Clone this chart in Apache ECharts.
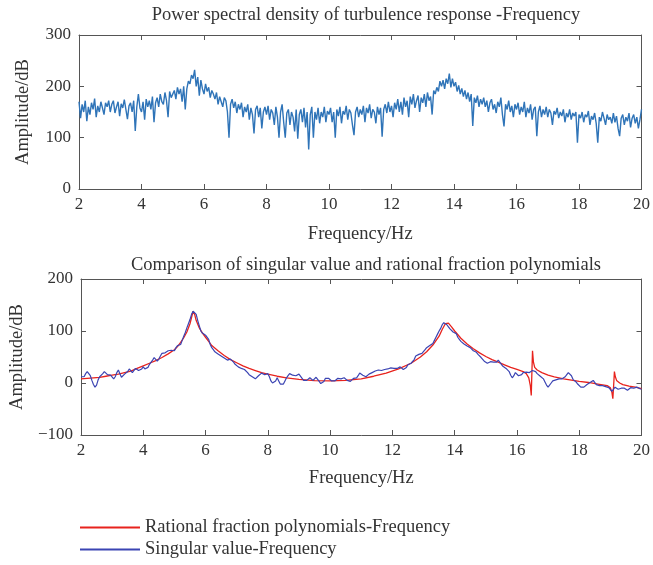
<!DOCTYPE html>
<html>
<head>
<meta charset="utf-8">
<script src="https://cdn.jsdelivr.net/npm/echarts@6/dist/echarts.min.js"></script>
<style>html,body{margin:0;padding:0;background:#fff}#c{width:653px;height:565px}</style>
</head>
<body>
<div id="c"></div>
<script>
// ---------- data ----------
const freqStart = 2;
const freqStep = 0.05;
const xTicks = [2, 4, 6, 8, 10, 12, 14, 16, 18, 20];
const psdTicks = [0, 100, 200, 300];
const cmpTicks = [-100, 0, 100, 200];

// Power spectral density of turbulence response (dB), 2.00 .. 20.00 Hz, step 0.05
const psdAmp = [
170,138,165,150,172,132,160,145,168,155,176,140,162,150,170,158,145,168,160,172,
150,165,172,148,160,170,142,166,158,174,155,136,162,168,150,172,113,160,185,158,
150,170,135,175,160,172,155,180,130,168,178,160,185,170,165,188,172,140,190,178,
180,192,175,198,185,195,170,200,155,195,210,205,222,215,232,200,218,182,212,195,
185,205,190,198,178,192,185,175,188,165,180,170,160,178,172,150,100,165,175,158,
170,148,165,155,168,140,160,150,165,135,158,145,108,155,162,140,158,118,150,160,
145,162,135,155,148,125,160,140,100,150,165,130,100,148,155,125,150,140,112,155,
98,145,155,130,158,120,150,77,145,160,100,150,135,158,128,150,140,160,130,152,
145,158,130,150,100,155,142,160,128,152,145,162,135,155,148,125,105,150,160,140,
155,145,162,130,158,148,165,138,155,150,128,160,145,158,102,155,165,148,170,150,
162,140,168,155,175,150,170,145,178,160,172,140,180,165,185,158,172,182,150,178,
168,185,160,188,172,180,145,192,185,198,190,210,200,212,195,215,205,225,198,215,
200,208,190,202,185,196,180,192,175,188,170,185,123,178,168,182,160,175,165,178,
160,172,150,168,175,155,165,148,170,160,178,145,122,165,155,172,150,162,140,165,
155,168,145,160,150,170,140,158,148,165,135,155,160,103,150,162,140,155,145,160,
140,155,148,125,152,145,158,138,150,142,155,130,148,140,155,135,148,142,150,90,
145,138,150,130,145,140,152,125,142,135,148,128,90,140,132,150,138,125,145,135,
140,128,148,130,142,118,103,138,145,125,140,132,148,120,138,145,128,140,118,135,
155
];

// Singular value (dB), 2.00 .. 20.00 Hz, step 0.05
const svAmp = [
12,14,12,18,22,21,14,5,-3,-8,-4,6,12,14,18,22,20,16,13,15,
14,8,12,20,25,18,11,13,17,15,22,27,24,20,22,28,30,24,23,27,
31,27,24,30,36,38,44,49,46,42,46,52,57,59,58,60,62,61,63,64,
62,68,72,70,74,82,90,97,106,114,122,132,138,140,132,120,110,100,96,94,
92,90,84,74,68,64,60,58,56,54,52,50,48,46,44,43,46,44,40,36,
33,31,30,28,27,26,24,20,16,13,12,9,8,10,14,17,19,20,16,18,
18,12,4,0,-2,4,10,4,-2,-5,-2,4,10,14,18,20,15,12,14,16,
17,14,9,5,3,5,8,10,7,5,8,11,8,3,-1,-2,3,9,12,9,
6,4,3,4,7,9,8,8,9,10,8,5,3,3,6,9,10,10,14,19,
18,15,12,12,14,17,20,20,22,23,24,25,25,24,25,26,26,27,28,29,
29,28,27,28,30,31,29,26,25,30,35,37,38,38,45,52,54,55,56,57,
58,64,68,70,72,74,76,82,88,94,100,105,112,116,117,112,108,104,102,98,
96,95,88,84,80,77,75,73,71,70,68,65,62,60,59,55,52,49,46,42,
40,38,39,41,43,40,38,40,44,43,36,32,30,28,27,22,15,10,14,20,
18,14,12,16,20,22,21,20,20,22,24,25,22,18,16,13,10,8,2,-4,
-8,-6,0,4,5,6,7,8,8,8,9,12,16,20,20,14,7,5,2,-2,
-5,-8,-11,-8,-5,-3,-2,1,3,5,3,-3,-5,-5,-4,-5,-6,-7,-8,-9,
-12,-16,-13,-8,-9,-12,-14,-10,-8,-10,-13,-14,-11,-9,-9,-10,-8,-8,-10,-11,
-12
];

// Rational fraction polynomials fit
const rfpFreq = [
2.0,2.2,2.4,2.6,2.8,3.0,3.2,3.4,3.6,3.8,4.0,4.2,4.4,4.6,4.8,5.0,5.1,5.2,5.3,5.4,5.5,5.55,5.6,5.65,5.7,5.8,5.9,
6.0,6.1,6.2,6.4,6.6,6.8,7.0,7.2,7.4,7.6,7.8,8.0,8.3,8.6,9.0,9.5,10.0,10.5,11.0,11.4,11.8,12.2,12.6,12.9,
13.1,13.3,13.5,13.6,13.7,13.75,13.8,13.9,14.0,14.2,14.4,14.6,14.8,15.0,15.2,15.4,15.6,15.8,16.0,16.2,16.3,
16.38,16.43,16.46,16.48,16.5,16.53,16.57,16.65,16.8,17.0,17.2,17.5,17.8,18.0,18.3,18.6,18.9,19.0,19.05,19.08,
19.11,19.13,19.16,19.2,19.3,19.4,19.6,19.8,20.0
];
const rfpAmp = [
8,9,10,11,13,15,17,20,23,28,33,38,43,49,56,64,70,78,87,98,114,126,138,132,120,106,96,
88,80,72,62,53,45,39,33,28,24,20,17,13,10,7,4.5,4,5,8,13,19,27,38,50,
60,73,90,103,114,116,115,108,100,86,75,66,58,51,45,40,35,30,26,22,18,
10,-5,-24,20,62,40,30,25,20,15,12,8,5,3,1,-2,-5,-9,-18,-30,
0,22,12,5,0,-3,-6,-8,-11
];

const legendNames = ['Rational fraction polynomials-Frequency', 'Singular value-Frequency'];

// ---------- build ----------
const psdData = psdAmp.map((v, i) => [freqStart + i * freqStep, v]);
const svData = svAmp.map((v, i) => [freqStart + i * freqStep, v]);
const rfpData = rfpFreq.map((f, i) => [f, rfpAmp[i]]);

const FONT = 'Liberation Serif';
const TXT = '#333';
const AX = '#555';
const fs = 17;
const fsBig = 18.5;

function xAx(grid, pos, ticks, named, gap) {
  return {
    gridIndex: grid, type: 'value', position: pos,
    min: ticks[0], max: ticks[ticks.length - 1], interval: ticks[1] - ticks[0],
    axisLine: { show: true, onZero: false, lineStyle: { color: AX, width: 1 } },
    axisTick: { show: true, inside: true, length: 5, lineStyle: { color: AX } },
    axisLabel: { show: named, color: TXT, fontFamily: FONT, fontSize: fs, margin: 7 },
    splitLine: { show: false },
    name: named ? 'Frequency/Hz' : '', nameLocation: 'middle', nameGap: gap || 36,
    nameTextStyle: { color: TXT, fontFamily: FONT, fontSize: fsBig }
  };
}
function yAx(grid, pos, ticks, named) {
  return {
    gridIndex: grid, type: 'value', position: pos,
    min: ticks[0], max: ticks[ticks.length - 1], interval: ticks[1] - ticks[0],
    axisLine: { show: true, onZero: false, lineStyle: { color: AX, width: 1 } },
    axisTick: { show: true, inside: true, length: 5, lineStyle: { color: AX } },
    axisLabel: { show: named, color: TXT, fontFamily: FONT, fontSize: fs, margin: 8,
      formatter: v => String(v).replace('-', '\u2212') },
    splitLine: { show: false },
    name: named ? 'Amplitude/dB' : '', nameLocation: 'middle', nameGap: 46,
    nameTextStyle: { color: TXT, fontFamily: FONT, fontSize: fsBig }
  };
}
function leg(name, top) {
  return {
    left: 80, top: top, padding: 0, itemWidth: 60, itemHeight: 2, icon: 'rect',
    data: [name], textStyle: { color: TXT, fontFamily: FONT, fontSize: fsBig }
  };
}

const chart = echarts.init(document.getElementById('c'), null, { renderer: 'canvas' });
chart.setOption({
  animation: false,
  backgroundColor: '#fff',
  title: [
    { text: 'Power spectral density of turbulence response -Frequency', left: 361, top: 1, textAlign: 'center',
      textStyle: { color: TXT, fontFamily: FONT, fontSize: fsBig, fontWeight: 'normal' } },
    { text: 'Comparison of singular value and rational fraction polynomials', left: 361, top: 251, textAlign: 'center',
      textStyle: { color: TXT, fontFamily: FONT, fontSize: fsBig, fontWeight: 'normal' } }
  ],
  grid: [
    { left: 79, right: 10, top: 35, height: 154 },
    { left: 79, right: 10, top: 279, height: 156 }
  ],
  xAxis: [
    xAx(0, 'bottom', xTicks, true, 36), xAx(0, 'top', xTicks, false),
    xAx(1, 'bottom', xTicks, true, 34), xAx(1, 'top', xTicks, false)
  ],
  yAxis: [
    yAx(0, 'left', psdTicks, true), yAx(0, 'right', psdTicks, false),
    yAx(1, 'left', cmpTicks, true), yAx(1, 'right', cmpTicks, false)
  ],
  legend: [leg(legendNames[0], 518), leg(legendNames[1], 540)],
  series: [
    { name: 'PSD', type: 'line', xAxisIndex: 0, yAxisIndex: 0, data: psdData, showSymbol: false,
      lineStyle: { color: '#2f74b8', width: 1.4 }, itemStyle: { color: '#2f74b8' } },
    { name: legendNames[0], type: 'line', xAxisIndex: 2, yAxisIndex: 2, data: rfpData,
      showSymbol: false, lineStyle: { color: '#e8231d', width: 1.3 }, itemStyle: { color: '#e8231d' } },
    { name: legendNames[1], type: 'line', xAxisIndex: 2, yAxisIndex: 2, data: svData,
      showSymbol: false, lineStyle: { color: '#3b44b3', width: 1.2 }, itemStyle: { color: '#3b44b3' } }
  ]
});
</script>
</body>
</html>
